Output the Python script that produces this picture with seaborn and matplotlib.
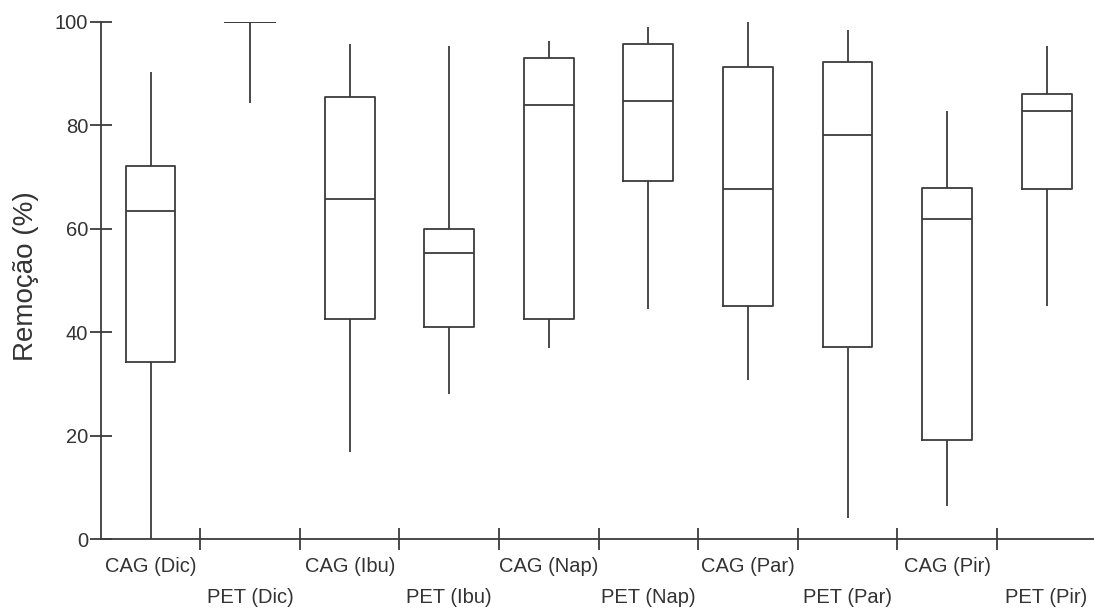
import matplotlib
matplotlib.use("Agg")
import matplotlib.pyplot as plt
import seaborn as sns
import pandas as pd

# Five-number summaries (min, Q1, median, Q3, max)
categories = ["CAG (Dic)", "PET (Dic)", "CAG (Ibu)", "PET (Ibu)", "CAG (Nap)",
              "PET (Nap)", "CAG (Par)", "PET (Par)", "CAG (Pir)", "PET (Pir)"]
whisker_low = [0.0, 84.2, 16.9, 28.1, 37.0, 44.4, 30.7, 4.1, 6.4, 45.1]
q1 = [34.2, 100.0, 42.6, 41.0, 42.6, 69.2, 45.1, 37.1, 19.2, 67.6]
median = [63.4, 100.0, 65.8, 55.3, 84.0, 84.7, 67.6, 78.1, 61.9, 82.7]
q3 = [72.1, 100.0, 85.4, 60.0, 92.9, 95.6, 91.2, 92.2, 67.9, 86.0]
whisker_high = [90.2, 100.0, 95.7, 95.3, 96.3, 99.0, 100.0, 98.3, 82.7, 95.3]
y_ticks = [0, 20, 40, 60, 80, 100]
y_label = "Remoção (%)"

rows = []
for i, c in enumerate(categories):
    for v in (whisker_low[i], q1[i], median[i], q3[i], whisker_high[i]):
        rows.append({"grupo": c, "valor": v})
df = pd.DataFrame(rows)

sns.set_style("white")
plt.rcParams["font.family"] = ["Liberation Sans", "DejaVu Sans"]

line_c = "#3c3c3c"
fig = plt.figure(figsize=(10.94, 6.12), dpi=100)
W, H = 1094, 612
x0, x1 = 100.8, 1096.4
y0, y1 = 539.3, 21.7
ax = fig.add_axes([x0 / W, (H - y0) / H, (x1 - x0) / W, (y0 - y1) / H])

sns.boxplot(data=df, x="grupo", y="valor", order=categories, ax=ax,
            whis=(0, 100), width=0.5, fill=False, color=line_c,
            linewidth=1.3, showcaps=False, showfliers=False)

ax.set_xlim(-0.5, 9.5)
ax.set_ylim(0, 100)
ax.set_yticks(y_ticks)
ax.set_xticks(range(len(categories)))
ax.set_xticklabels(categories)
ax.set_xticks([i + 0.5 for i in range(len(categories) - 1)], minor=True)
ax.set_xlabel("")
ax.set_ylabel(y_label, fontsize=20, color="#333333")
ax.yaxis.set_label_coords(-0.062, 0.509)

for s in ("top", "right"):
    ax.spines[s].set_visible(False)
for s in ("left", "bottom"):
    ax.spines[s].set_color(line_c)
    ax.spines[s].set_linewidth(1.3)

ax.tick_params(axis="y", which="major", left=True, direction="inout",
               length=16, width=1.3, color=line_c, labelsize=14.5,
               labelcolor="#333333", pad=1)
ax.tick_params(axis="x", which="major", bottom=True, length=0, labelsize=14.5,
               labelcolor="#333333", pad=13)
ax.tick_params(axis="x", which="minor", bottom=True, direction="inout",
               length=16, width=1.3, color=line_c)

for lbl in ax.get_xticklabels()[1::2]:
    lbl.set_y(-0.06)

fig.savefig("out.png", dpi=100)
